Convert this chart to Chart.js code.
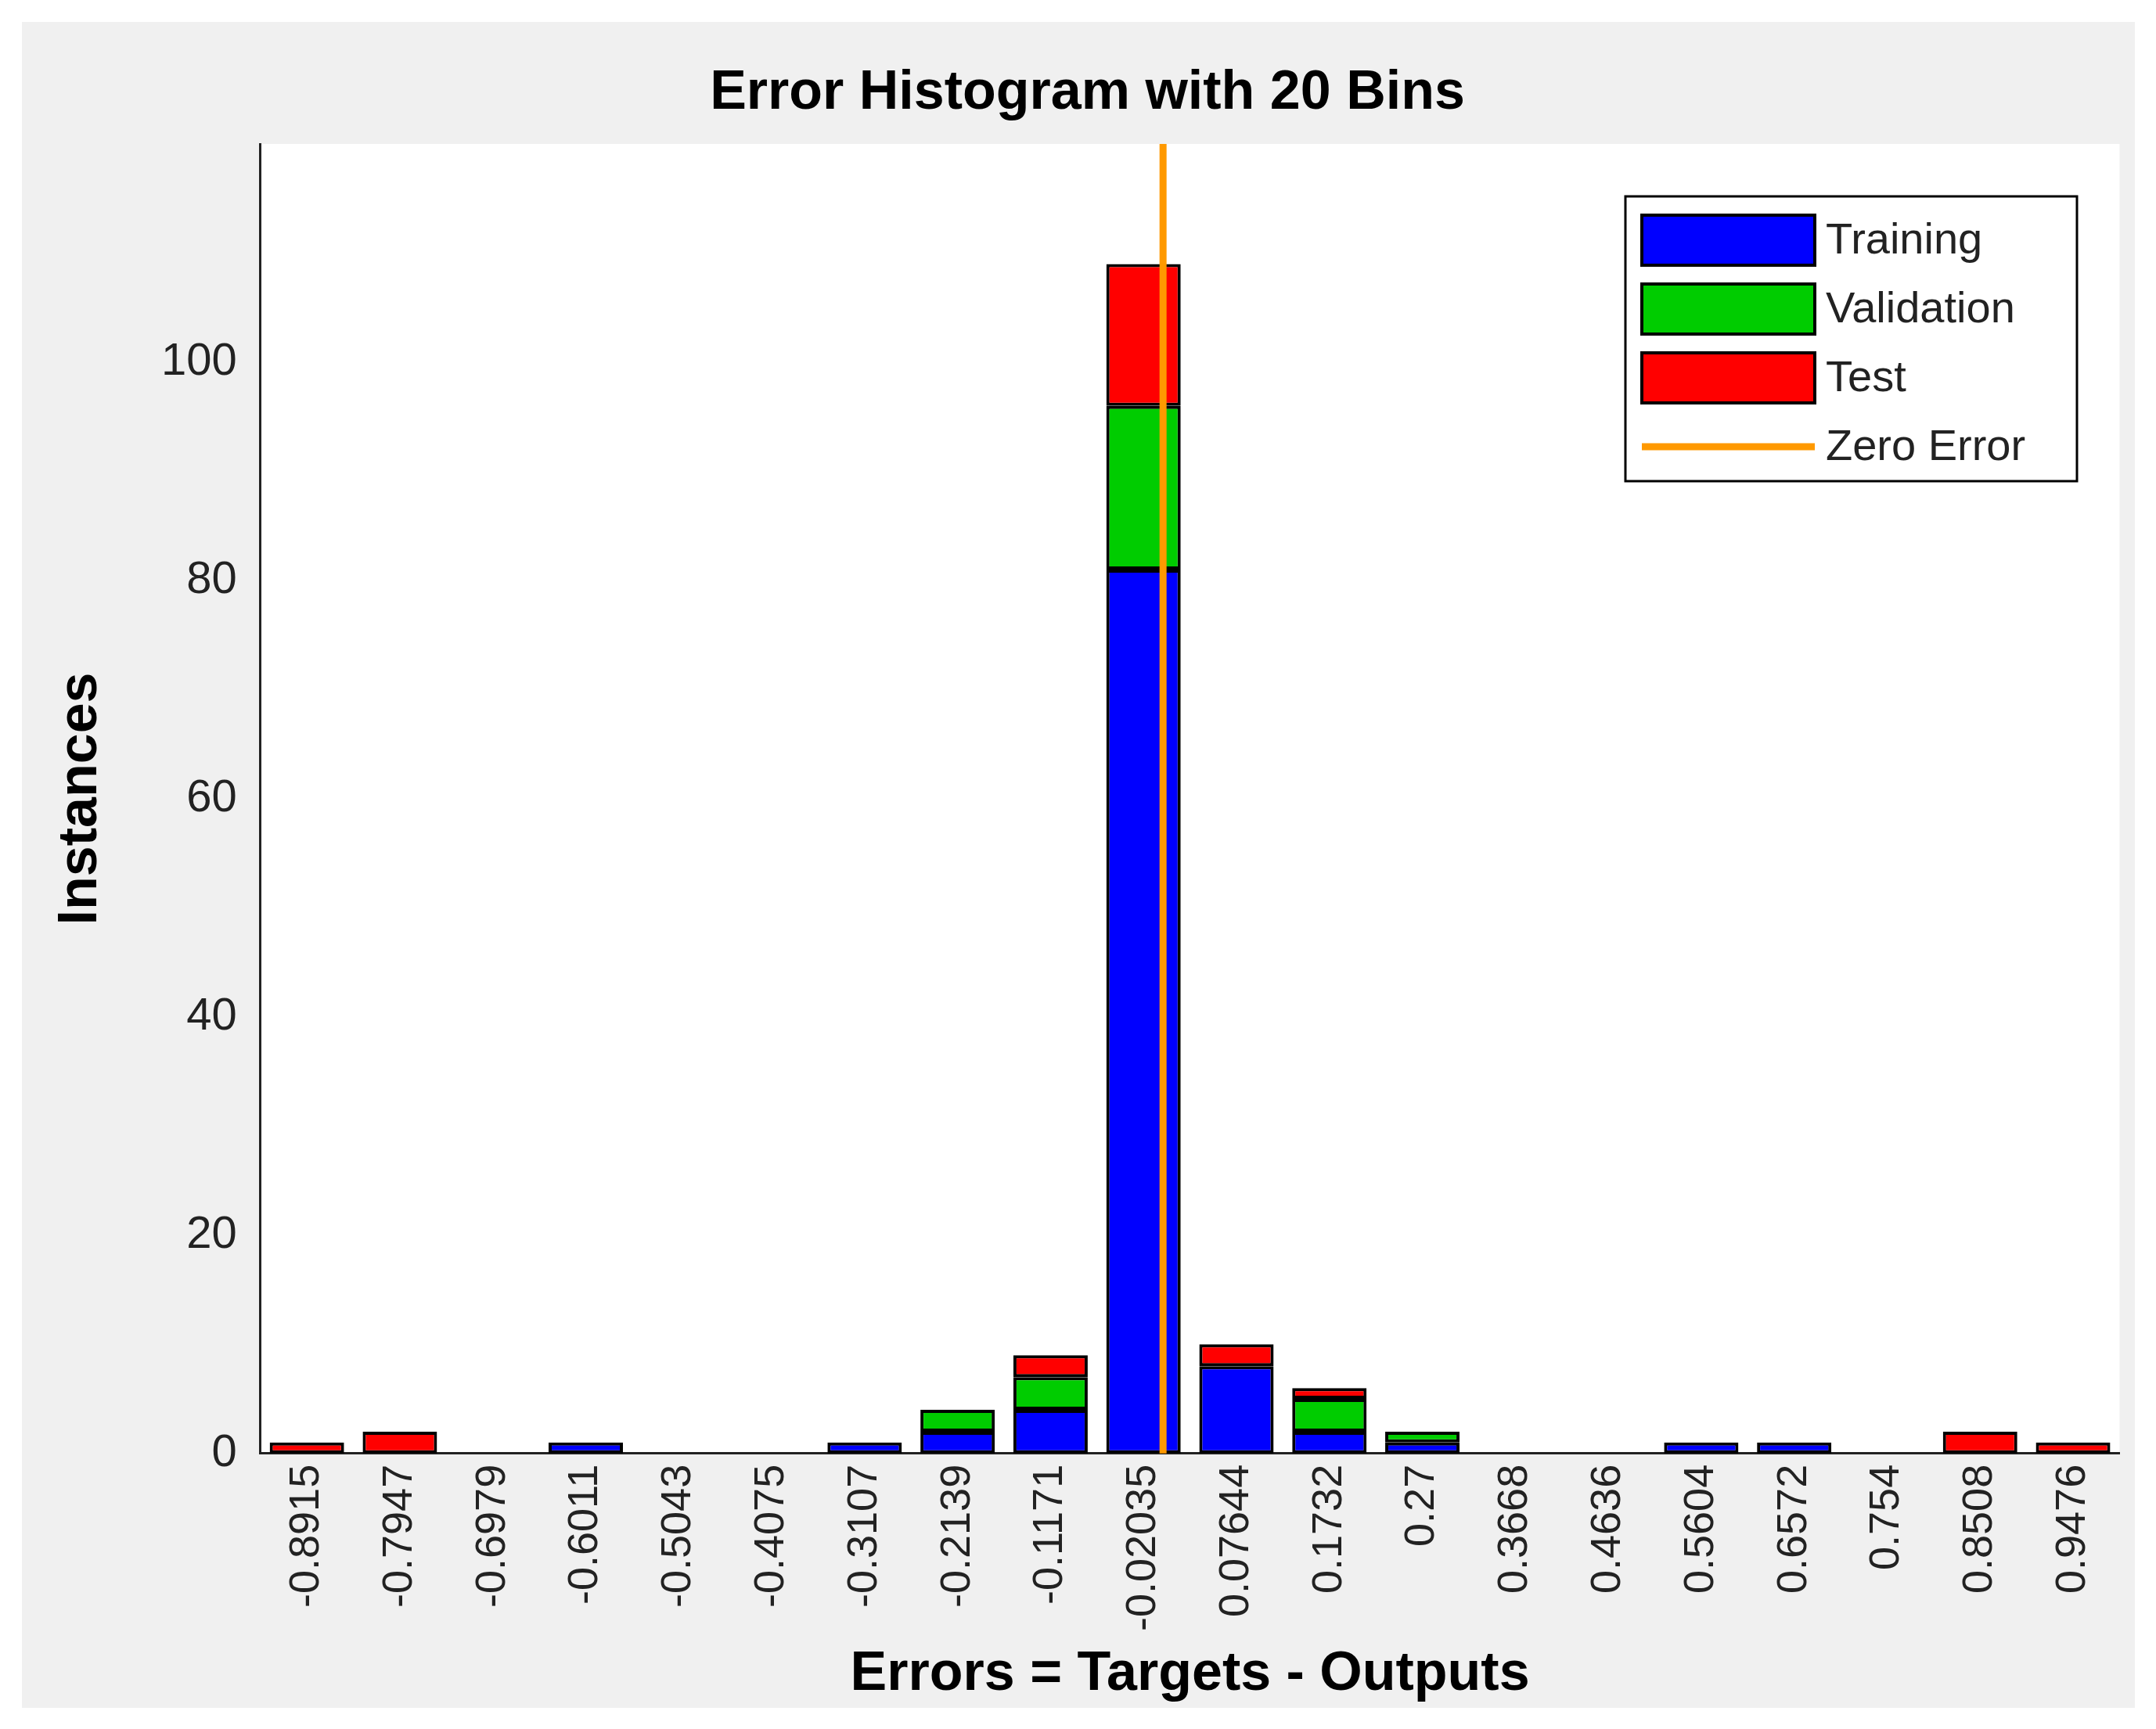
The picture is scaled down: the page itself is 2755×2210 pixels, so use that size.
<!DOCTYPE html>
<html>
<head>
<meta charset="utf-8">
<script src="https://cdn.jsdelivr.net/npm/chart.js@4.4.0/dist/chart.umd.min.js"></script>
<style>
  html, body { margin: 0; padding: 0; background: #fff; }
  #wrap { position: absolute; left: 28px; top: 28px; width: 2700px; height: 2155px; background: #f0f0f0; }
</style>
</head>
<body>
<div id="wrap"><canvas id="c"></canvas></div>
<script>
const BIN_LABELS = ["-0.8915","-0.7947","-0.6979","-0.6011","-0.5043","-0.4075","-0.3107","-0.2139","-0.1171","-0.02035","0.07644","0.1732","0.27","0.3668","0.4636","0.5604","0.6572","0.754","0.8508","0.9476"];
const TRAINING   = [0,0,0,1,0,0,1,2,4,81,8,2,1,0,0,1,1,0,0,0];
const VALIDATION = [0,0,0,0,0,0,0,2,3,15,0,3,1,0,0,0,0,0,0,0];
const TEST       = [1,2,0,0,0,0,0,0,2,13,2,1,0,0,0,0,0,0,2,1];
const BIN_CENTERS = BIN_LABELS.map(Number);
const ZERO_ERROR = 0;

const FONT = "'Liberation Sans', Arial, sans-serif";

// zero error line, placed through the category scale
const zeroLine = {
  id: "zeroLine",
  afterDatasetsDraw(chart) {
    const x = chart.scales.x, y = chart.scales.y;
    const step = BIN_CENTERS[1] - BIN_CENTERS[0];
    const idx = 9 + (ZERO_ERROR - BIN_CENTERS[9]) / step;
    const px = x.getPixelForValue(idx);
    const ctx = chart.ctx;
    ctx.save();
    ctx.strokeStyle = "#ff9900";
    ctx.lineWidth = 9;
    ctx.beginPath();
    ctx.moveTo(px, y.bottom);
    ctx.lineTo(px, chart.chartArea.top);
    ctx.stroke();
    ctx.restore();
  }
};

// matlab-style boxed legend inside the axes
const boxLegend = {
  id: "boxLegend",
  afterDraw(chart) {
    const ctx = chart.ctx;
    const items = [
      { label: "Training", color: "#0000ff" },
      { label: "Validation", color: "#00cc00" },
      { label: "Test", color: "#ff0000" },
      { label: "Zero Error", color: "#ff9900", line: true }
    ];
    const bx = 2049, by = 223, bw = 577, bh = 364, pitch = 88;
    ctx.save();
    ctx.fillStyle = "#fff";
    ctx.fillRect(bx, by, bw, bh);
    ctx.strokeStyle = "#000";
    ctx.lineWidth = 3;
    ctx.strokeRect(bx, by, bw, bh);
    ctx.font = "56px " + FONT;
    ctx.textBaseline = "middle";
    items.forEach((it, i) => {
      const cy = by + 56 + i * pitch;
      if (it.line) {
        ctx.strokeStyle = it.color;
        ctx.lineWidth = 9;
        ctx.beginPath();
        ctx.moveTo(bx + 21, cy);
        ctx.lineTo(bx + 242, cy);
        ctx.stroke();
      } else {
        ctx.fillStyle = it.color;
        ctx.fillRect(bx + 21, cy - 32, 221, 64);
        ctx.strokeStyle = "#000";
        ctx.lineWidth = 4;
        ctx.strokeRect(bx + 21, cy - 32, 221, 64);
      }
      ctx.fillStyle = "#222";
      ctx.fillText(it.label, bx + 256, cy + 2);
    });
    ctx.restore();
  }
};

// white axes background
const axesBg = {
  id: "axesBg",
  beforeDraw(chart) {
    const a = chart.chartArea;
    chart.ctx.save();
    chart.ctx.fillStyle = "#fff";
    chart.ctx.fillRect(a.left, a.top, a.right - a.left, a.bottom - a.top);
    chart.ctx.restore();
  }
};

const ds = (label, data, color) => ({
  label, data, backgroundColor: color, borderColor: "#000", borderWidth: 4,
  borderSkipped: false, barPercentage: 0.8, categoryPercentage: 1.0, stack: "s"
});

new Chart(document.getElementById("c"), {
  type: "bar",
  data: {
    labels: BIN_LABELS,
    datasets: [
      ds("Training", TRAINING, "#0000ff"),
      ds("Validation", VALIDATION, "#00cc00"),
      ds("Test", TEST, "#ff0000")
    ]
  },
  options: {
    responsive: true,
    maintainAspectRatio: false,
    animation: false,
    layout: { padding: { left: 30, right: 7, top: 10, bottom: 0 } },
    plugins: {
      legend: { display: false },
      tooltip: { enabled: false },
      title: {
        display: true,
        text: "Error Histogram with 20 Bins",
        color: "#000",
        font: { family: FONT, size: 70, weight: "bold" },
        padding: { top: 40, bottom: 22 }
      }
    },
    scales: {
      x: {
        stacked: true,
        grid: { display: false, drawTicks: false },
        border: { color: "#222", width: 3 },
        ticks: { color: "#222", font: { family: FONT, size: 54 }, minRotation: 90, maxRotation: 90, padding: 14, autoSkip: false },
        title: { display: true, text: "Errors = Targets - Outputs", color: "#000", font: { family: FONT, size: 70, weight: "bold" }, padding: { top: 0, bottom: 0 } }
      },
      y: {
        stacked: true,
        min: 0, max: 120,
        grid: { display: false, drawTicks: false },
        border: { color: "#222", width: 3 },
        ticks: { stepSize: 20, color: "#222", font: { family: FONT, size: 58 }, padding: 30, callback: v => v <= 100 ? v : "" },
        title: { display: true, text: "Instances", color: "#000", font: { family: FONT, size: 70, weight: "bold" }, padding: { bottom: 30 } }
      }
    }
  },
  plugins: [axesBg, zeroLine, boxLegend]
});
</script>
</body>
</html>
